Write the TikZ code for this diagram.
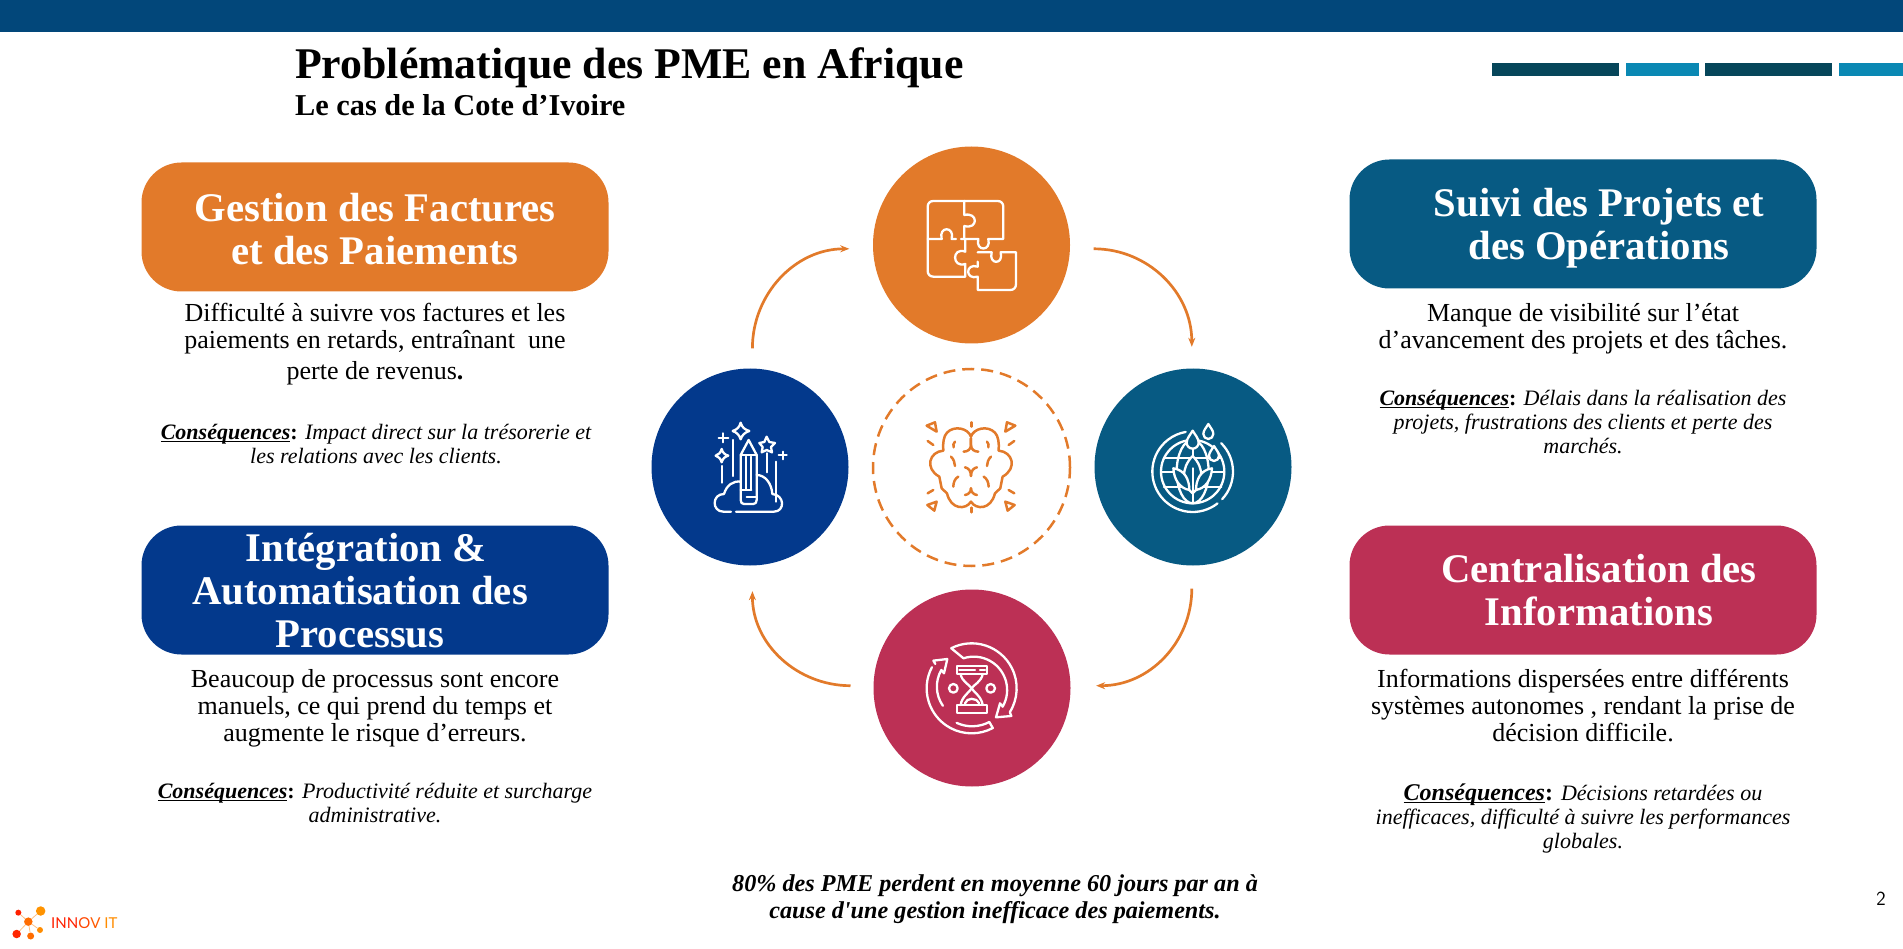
\documentclass[tikz,border=0pt]{standalone}
\usepackage{fontspec}
\setmainfont{Liberation Serif}
\newfontfamily\notefont{Liberation Serif}
\newfontfamily\logofont{Lato}
\usepackage{tikz}
\usetikzlibrary{positioning,arrows.meta}
\definecolor{orangec}{HTML}{E27A2A}
\definecolor{bluec}{HTML}{03398C}
\definecolor{tealc}{HTML}{075A83}
\definecolor{redc}{HTML}{BC3055}
\definecolor{barc}{HTML}{02477A}
\definecolor{stripa}{HTML}{06465A}
\definecolor{stripb}{HTML}{0A88B3}
\tikzset{
  titlebox/.style = {rounded corners=40pt, minimum width=467pt, minimum height=129pt, inner sep=0pt},
  boxtext/.style = {text=white, align=center, font=\fontsize{40.7}{43}\selectfont\bfseries},
  body/.style = {align=center, font=\fontsize{26}{27}\selectfont},
  cons/.style = {align=center, font=\fontsize{22}{24}\selectfont\itshape},
  main/.style = {circle, minimum size=197pt, inner sep=0pt},
  cycarrow/.style = {draw=orangec, line width=2.7pt, -{Stealth[length=9pt,width=7pt]}},
  icon/.style = {draw=white, line width=2.3pt, line cap=round, line join=round},
  brainline/.style = {draw=orangec, line width=2.5pt, line cap=round, line join=round},
  dot/.style = {circle, inner sep=0pt}
}
\newcommand{\ulfix}[1]{\setbox0=\hbox{#1}\rlap{\rule[-2.6pt]{\wd0}{1.1pt}}\box0}
\newcommand{\cons}{\ulfix{\textbf{Conséquences}}\textbf{\upshape:} }
\begin{document}
\begin{tikzpicture}[x=1pt, y=-1pt]
    \useasboundingbox (0,0) rectangle (1903,949);
    % Header
    \fill[barc] (0,0) rectangle (1903,32);
    \fill[stripa] (1492,63) rectangle (1619,76);
    \fill[stripb] (1626,63) rectangle (1699,76);
    \fill[stripa] (1705,63) rectangle (1832,76);
    \fill[stripb] (1839,63) rectangle (1903,76);
    \node[anchor=west, inner sep=0pt, font=\fontsize{43.8}{46}\selectfont\bfseries] (title) at (295,68) {Problématique des PME en Afrique};
    \node[anchor=west, inner sep=0pt, font=\fontsize{30.3}{32}\selectfont\bfseries] (subtitle) at (295,105) {Le cas de la Cote d’Ivoire};
    % Boxes
    \node[titlebox, fill=orangec] (box1) at (375,227) {};
    \node[titlebox, fill=bluec] (box2) at (375,590) {};
    \node[titlebox, fill=tealc] (box3) at (1583,224) {};
    \node[titlebox, fill=redc] (box4) at (1583,590) {};
    \node[boxtext] (head1) at (375,229) {Gestion des Factures\\et des Paiements};
    \node[boxtext] (head2) at (360,591) {\hspace*{12pt}Intégration \&\\Automatisation des\\Processus};
    \node[boxtext] (head3) at (1599,228) {Suivi des Projets et\\des Opérations};
    \node[boxtext] (head4) at (1599,590) {Centralisation des\\Informations};
    % Texts
    \node[body] (text1) at (375,344) {Difficulté à suivre vos factures et les\\paiements en retards, entraînant\ \ une\\[4.5pt]perte de revenus\textbf{.}};
    \node[cons] (cons1) at (376,444) {\cons Impact direct sur la trésorerie et\\les relations avec les clients.};
    \node[body] (text2) at (375,708) {Beaucoup de processus sont encore\\manuels, ce qui prend du temps et\\augmente le risque d’erreurs.};
    \node[cons] (cons2) at (375,803) {\cons Productivité réduite et surcharge\\administrative.};
    \node[body] (text3) at (1583,329) {Manque de visibilité sur l’état\\d’avancement des projets et des tâches.};
    \node[cons] (cons3) at (1583,422) {\cons Délais dans la réalisation des\\projets, frustrations des clients et perte des\\marchés.};
    \node[body] (text4) at (1583,706) {Informations dispersées entre différents\\systèmes autonomes , rendant la prise de\\décision difficile.};
    \node[cons] (cons4) at (1583,818) {{\fontsize{24}{24}\selectfont\cons}Décisions retardées ou\\inefficaces, difficulté à suivre les performances\\globales.};
    \node[align=center, font=\notefont\fontsize{24.2}{27}\selectfont\bfseries\itshape] (note) at (995,899) {80\% des PME perdent en moyenne 60 jours par an à\\cause d'une gestion inefficace des paiements.};
    \node[font=\fontsize{20}{22}\selectfont\sffamily] (page) at (1881,899) {2};
    % Circles
    \node[main, fill=orangec] (puzzle) at (971.5,245) {};
    \node[main, fill=bluec] (pencil) at (750,467) {};
    \node[main, fill=tealc] (globe) at (1193,467) {};
    \node[main, fill=redc] (hourglass) at (972,688) {};
    \node[main, draw=orangec, line width=2.5pt, dash pattern=on 12pt off 7pt] (brain) at (971.5,467.5) {};
    % Edges
    \coordinate (a1) at ([shift={(2.4pt,20pt)}]pencil.north);
    \coordinate (a2) at ([shift={(-23.5pt,-3.8pt)}]puzzle.west);
    \coordinate (b1) at ([shift={(23.5pt,-3.8pt)}]puzzle.east);
    \coordinate (b2) at ([shift={(-1.2pt,21.5pt)}]globe.north);
    \coordinate (c1) at ([shift={(-1.2pt,-23pt)}]globe.south);
    \coordinate (c2) at ([shift={(25.4pt,2.3pt)}]hourglass.east);
    \coordinate (d1) at ([shift={(-22.8pt,2.3pt)}]hourglass.west);
    \coordinate (d2) at ([shift={(2.4pt,-25.5pt)}]pencil.south);
    \draw[cycarrow] (a1) to[out=90, in=180] (a2);
    \draw[cycarrow] (b1) to[out=0, in=90] (b2);
    \draw[cycarrow] (c1) to[out=-90, in=0] (c2);
    \draw[cycarrow] (d1) to[out=180, in=-90] (d2);
    % Puzzle icon
    \begin{scope}[shift={(860,140)}, x=0.3333pt, y=-0.3333pt]
        \draw[icon] (313,183) -- (220,183) .. controls (210,183) and (203,190) .. (203,200) -- (203,393) .. controls (203,403) and (210,410) .. (220,410) -- (316,410) -- (316,372) .. controls (275,385) and (275,320) .. (316,335) -- (316,297);
        \draw[icon] (313,183) -- (413,183) .. controls (423,183) and (430,190) .. (430,200) -- (430,297) -- (385,297) .. controls (395,335) and (345,335) .. (355,297) -- (303,297);
        \draw[icon] (313,183) -- (313,225) .. controls (355,215) and (355,270) .. (313,258) -- (313,297);
        \draw[icon] (203,297) -- (245,297) .. controls (235,258) and (285,258) .. (275,297) -- (288,297);
        \draw[icon] (353,337) -- (395,337) .. controls (385,375) and (432,375) .. (422,337) -- (468,337) -- (468,433) .. controls (468,443) and (461,450) .. (451,450) -- (353,450) -- (353,410) .. controls (315,422) and (315,368) .. (353,380) -- (353,365);
    \end{scope}
    % Pencil icon
    \begin{scope}[shift={(650,360)}, x=0.3333pt, y=-0.3333pt]
        \draw[icon] (243,455) -- (220,455) .. controls (185,455) and (185,402) .. (222,402) .. controls (230,375) and (250,362) .. (272,365);
        \draw[icon] (258,455) -- (372,455) .. controls (405,455) and (405,405) .. (367,402) .. controls (365,370) and (345,345) .. (320,345);
        \draw[icon] (272,285) -- (296,240) -- (320,285) -- (320,420) .. controls (320,428) and (316,432) .. (310,432) -- (282,432) .. controls (276,432) and (272,428) .. (272,420) -- cycle;
        \draw[icon] (272,285) -- (320,285) (288,290) -- (288,388) (304,290) -- (304,388) (272,390) -- (304,390) (290,410) -- (320,410);
        \draw[icon] (250,240) -- (250,348) (215,318) -- (215,368) (352,280) -- (352,337) (377,305) -- (377,425);
        \draw[icon] (272,188) .. controls (276,203) and (285,209) .. (298,213) .. controls (285,217) and (276,225) .. (272,238) .. controls (268,225) and (260,217) .. (248,213) .. controls (260,209) and (268,203) .. cycle;
        \draw[icon] (215,267) .. controls (218,278) and (224,284) .. (235,287) .. controls (224,290) and (218,296) .. (215,307) .. controls (212,296) and (206,290) .. (197,287) .. controls (206,284) and (212,278) .. cycle;
        \draw[icon] (350,230) -- (358,246) -- (375,249) -- (363,261) -- (366,277) -- (350,270) -- (335,277) -- (338,261) -- (328,249) -- (343,246) -- cycle;
        \draw[icon] (206,233) -- (235,233) (220,220) -- (220,247) (386,286) -- (410,286) (398,275) -- (398,298);
    \end{scope}
    % Brain icon
    \begin{scope}[shift={(650,360)}, x=0.3333pt, y=-0.3333pt]
        \draw[brainline] (965,187) -- (965,200) (965,443) -- (965,457);
        \foreach \s in {-1,1} {
            \begin{scope}[shift={(963,320)}, xscale=\s]
                \draw[brainline] (0,-90) .. controls (-8,-115) and (-50,-125) .. (-72,-102) .. controls (-82,-92) and (-85,-70) .. (-83,-48) .. controls (-125,-45) and (-140,5) .. (-95,30) -- (-88,65) -- (-72,80) .. controls (-60,130) and (-15,130) .. (0,105);
                \draw[brainline] (0,-85) -- (0,-65) .. controls (0,-52) and (10,-45) .. (22,-45);
                \draw[brainline] (-48,-75) .. controls (-53,-70) and (-54,-64) .. (-52,-58);
                \draw[brainline] (-60,-30) .. controls (-52,-22) and (-48,-12) .. (-48,-2);
                \draw[brainline] (-38,30) .. controls (-48,35) and (-53,48) .. (-53,60);
                \draw[brainline] (-18,2) .. controls (-8,4) and (0,12) .. (0,28);
                \draw[brainline] (-18,85) .. controls (-8,84) and (0,76) .. (0,65);
                \draw[brainline] (-130,-77) -- (-113,-65) (-130,80) -- (-113,70);
                \draw[brainline] (-133,-123) -- (-108,-133) -- (-103,-105) -- cycle;
                \draw[brainline] (-131,115) -- (-103,105) -- (-110,132) -- cycle;
            \end{scope}
        }
    \end{scope}
    % Globe icon
    \begin{scope}[shift={(1090,360)}, x=0.3333pt, y=-0.3333pt]
        \draw[icon] (308,335) ++(52:121) arc[start angle=52, end angle=260, radius=121];
        \draw[icon] (308,335) ++(43:121) arc[start angle=43, end angle=-45, radius=121];
        \draw[icon] (308,335) circle[radius=95];
        \draw[icon] (308,335) ellipse[x radius=48, y radius=95];
        \draw[icon] (308,240) -- (308,430);
        \draw[icon] (222,295) -- (394,295) (213,337) -- (403,337) (222,380) -- (394,380);
        \draw[icon, fill=tealc] (308,288) .. controls (345,325) and (340,375) .. (308,400) .. controls (276,375) and (271,325) .. cycle;
        \draw[icon, fill=tealc] (250,325) .. controls (285,330) and (298,360) .. (298,390) .. controls (270,385) and (252,360) .. cycle;
        \draw[icon, fill=tealc] (366,325) .. controls (331,330) and (318,360) .. (318,390) .. controls (346,385) and (364,360) .. cycle;
        \draw[icon] (308,325) -- (308,400);
        \foreach \cx/\cy/\r in {308/248/18, 355/222/15, 372/288/15} {
            \draw[icon, fill=tealc] (\cx,\cy-2*\r) .. controls (\cx+0.4*\r,\cy-1.3*\r) and (\cx+\r,\cy-0.7*\r) .. (\cx+\r,\cy) arc[start angle=0, end angle=180, radius=\r] .. controls (\cx-\r,\cy-0.7*\r) and (\cx-0.4*\r,\cy-1.3*\r) .. cycle;
        }
    \end{scope}
    % Hourglass icon
    \begin{scope}[shift={(870,590)}, x=0.3333pt, y=-0.3333pt]
        \draw[icon] (305,295) ++(-117:135) arc[start angle=-117, end angle=32, radius=135] -- (424,378) -- (378,382) -- (390,340) -- (398,350) arc[start angle=30, end angle=-108, radius=100] -- cycle;
        \draw[icon] (305,295) ++(208:135) arc[start angle=208, end angle=62, radius=135] -- (358,396) arc[start angle=62, end angle=115, radius=110];
        \draw[icon] (232,207) -- (190,212) -- (196,222) (232,207) -- (222,250) -- (214,240) arc[start angle=-150, end angle=-215, radius=100];
        \draw[icon] (262,227) -- (350,227) -- (350,252) -- (262,252) -- cycle;
        \draw[icon] (262,345) -- (350,345) -- (350,368) -- (262,368) -- cycle;
        \draw[icon] (272,252) .. controls (275,275) and (300,285) .. (305,295) .. controls (310,305) and (335,320) .. (338,345);
        \draw[icon] (338,252) .. controls (335,275) and (310,285) .. (305,295) .. controls (300,305) and (275,320) .. (272,345);
        \draw[icon] (268,240) -- (315,240) (330,240) -- (345,240);
        \draw[icon] (285,340) .. controls (290,322) and (320,322) .. (328,340);
        \draw[icon] (250,295) circle[radius=13] (362,295) circle[radius=13];
    \end{scope}
    % Logo
    \begin{scope}[shift={(0,880)}, x=0.3333pt, y=-0.3333pt]
        \node[dot, minimum size=8.5pt, fill=orange!85!red] (hub) at (85,125) {};
        \node[dot, minimum size=9.5pt, fill=orange!85!yellow] (lg1) at (122,93) {};
        \node[dot, minimum size=6pt, fill=red!75!orange] (lg2) at (55,98) {};
        \node[dot, minimum size=6pt, fill=orange!90!yellow] (lg3) at (120,150) {};
        \node[dot, minimum size=8.5pt, fill=red!70!orange] (lg4) at (50,162) {};
        \node[dot, minimum size=7pt, fill=orange!85!red] (lg5) at (92,168) {};
        \foreach \n in {lg1,lg2,lg3,lg4,lg5} \draw[orange!50, line width=0.8pt] (hub) -- (\n);
        \node[anchor=west, inner sep=0pt, font=\logofont\fontsize{15}{18}\selectfont] (logo) at (153,130) {\textcolor{red!75!orange}{INN}\textcolor{red!45!orange}{O}\textcolor{red!30!orange}{V} \textcolor{orange!90!yellow}{IT}};
    \end{scope}
\end{tikzpicture}
\end{document}
